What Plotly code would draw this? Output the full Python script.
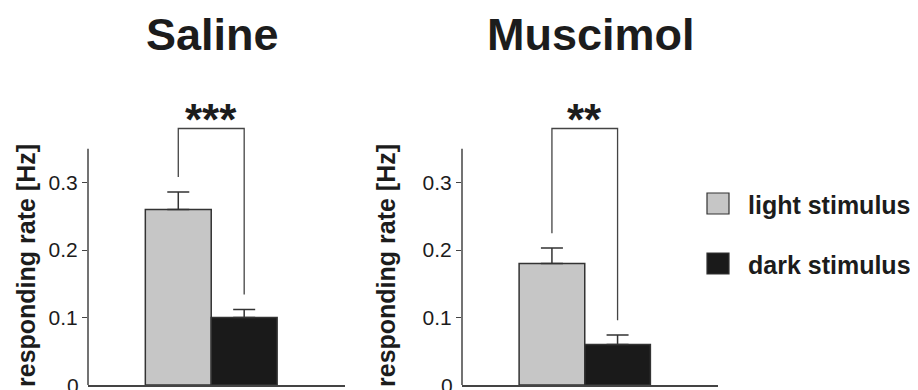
import plotly.graph_objects as go

# ---- data ----
groups = ["Saline", "Muscimol"]
stimuli = ["light stimulus", "dark stimulus"]
light_mean = [0.26, 0.18]
light_sem = [0.026, 0.023]
dark_mean = [0.10, 0.06]
dark_sem = [0.012, 0.014]
significance = ["***", "**"]
y_tickvals = [0, 0.1, 0.2, 0.3]
y_ticktext = ["0", "0.1", "0.2", "0.3"]
y_title = "responding rate [Hz]"

# ---- style ----
OFF = 8                      # default page margin of the html body
W, H = 918 - OFF, 390 - OFF  # figure size so that it exactly fills the window


def PX(px):   # window pixel x -> paper fraction
    return (px - OFF) / W


def PY(py):   # window pixel y -> paper fraction
    return 1 - (py - OFF) / H


FONT = "Liberation Sans, Arial, Helvetica, sans-serif"
LIGHT = "#c6c6c6"
DARK = "#1a1a1a"
EDGE = "#333333"
AXIS = "#444444"
TXT = "#1c1c1c"

x_range = [-1.37, 2.53]
zero_px = 385
px_per_unit = 675.0
y_range = [0, (zero_px - OFF) / px_per_unit]
axis_top = 0.35
bracket_top = 0.38
bracket_gap = 0.022

x_domains = [[PX(88), PX(345)], [PX(462), PX(718)]]
y_domain = [PY(zero_px), 1]

fig = go.Figure()

for i, g in enumerate(groups):
    xa = "x" if i == 0 else "x2"
    ya = "y" if i == 0 else "y2"
    fig.add_trace(go.Bar(
        x=[0], y=[light_mean[i]], width=[1], name=stimuli[0],
        marker=dict(color=LIGHT, line=dict(color=EDGE, width=1.5)),
        error_y=dict(type="data", symmetric=False, array=[light_sem[i]], arrayminus=[0],
                     color=EDGE, thickness=1.5, width=11),
        xaxis=xa, yaxis=ya, showlegend=False, hoverinfo="skip"))
    fig.add_trace(go.Bar(
        x=[1], y=[dark_mean[i]], width=[1], name=stimuli[1],
        marker=dict(color=DARK, line=dict(color=EDGE, width=1.5)),
        error_y=dict(type="data", symmetric=False, array=[dark_sem[i]], arrayminus=[0],
                     color=EDGE, thickness=1.5, width=11),
        xaxis=xa, yaxis=ya, showlegend=False, hoverinfo="skip"))
    # significance bracket
    l_end = light_mean[i] + light_sem[i] + bracket_gap
    d_end = dark_mean[i] + dark_sem[i] + bracket_gap
    fig.add_trace(go.Scatter(
        x=[0, 0, 1, 1], y=[l_end, bracket_top, bracket_top, d_end],
        mode="lines", line=dict(color=AXIS, width=1.3),
        xaxis=xa, yaxis=ya, showlegend=False, hoverinfo="skip"))
    fig.add_annotation(x=0.5, y=bracket_top, xref=xa, yref=ya, text="<b>%s</b>" % significance[i],
                       showarrow=False, yanchor="middle", yshift=9,
                       font=dict(family=FONT, size=44, color=TXT))
    # y-axis line up to axis_top only
    xd = "x domain" if i == 0 else "x2 domain"
    yd = "y domain" if i == 0 else "y2 domain"
    fig.add_shape(type="line", xref=xd, yref=yd, x0=0, x1=0,
                  y0=0, y1=axis_top / (y_range[1] - y_range[0]),
                  line=dict(color=AXIS, width=1.5))
    # the bottom tick label sits on the figure edge; drawn as text so it is not auto-hidden
    fig.add_annotation(x=0, y=y_tickvals[0], xref=xd, yref=ya, text=y_ticktext[0],
                       showarrow=False, xanchor="right", yanchor="middle", xshift=-7,
                       font=dict(family=FONT, size=21, color=TXT))

    common_x = dict(domain=x_domains[i], range=x_range, showline=True, linecolor=AXIS,
                    linewidth=1.5, showticklabels=False, ticks="", showgrid=False,
                    zeroline=False, fixedrange=True)
    common_y = dict(domain=y_domain, range=y_range, showline=False, tickvals=y_tickvals[1:],
                    ticktext=y_ticktext[1:], ticks="outside", ticklen=5, tickwidth=1.3,
                    tickcolor=AXIS, showgrid=False, zeroline=False,
                    tickfont=dict(family=FONT, size=21, color=TXT), fixedrange=True)
    if i == 0:
        fig.update_layout(xaxis=dict(anchor="y", **common_x), yaxis=dict(anchor="x", **common_y))
    else:
        fig.update_layout(xaxis2=dict(anchor="y2", **common_x), yaxis2=dict(anchor="x2", **common_y))

# panel titles
title_x = [212, 591]
for i, g in enumerate(groups):
    fig.add_annotation(x=PX(title_x[i]), y=PY(34), xref="paper", yref="paper",
                       text="<b>%s</b>" % g, showarrow=False, xanchor="center", yanchor="middle",
                       font=dict(family=FONT, size=45, color=TXT))

# y-axis titles
ytitle_x = [26, 386]
for i in range(2):
    fig.add_annotation(x=PX(ytitle_x[i]), y=PY(266), xref="paper", yref="paper",
                       text="<b>%s</b>" % y_title, textangle=-90, showarrow=False,
                       xanchor="center", yanchor="middle",
                       font=dict(family=FONT, size=25, color=TXT))

# legend (drawn manually)
leg_colors = [LIGHT, DARK]
leg_y = [203.5, 263.5]
for k, s in enumerate(stimuli):
    fig.add_shape(type="rect", xref="paper", yref="paper",
                  x0=PX(707), x1=PX(729), y0=PY(leg_y[k] - 10.5), y1=PY(leg_y[k] + 10.5),
                  fillcolor=leg_colors[k], line=dict(color=EDGE, width=1.2))
    fig.add_annotation(x=PX(746), y=PY(leg_y[k] + 1), xref="paper", yref="paper",
                       text="<b>%s</b>" % s, showarrow=False, xanchor="left", yanchor="middle",
                       font=dict(family=FONT, size=25, color=TXT))

fig.update_layout(width=W, height=H, margin=dict(l=0, r=0, t=0, b=0),
                  paper_bgcolor="white", plot_bgcolor="white", barmode="overlay",
                  showlegend=False)

fig.write_html("out.html")
